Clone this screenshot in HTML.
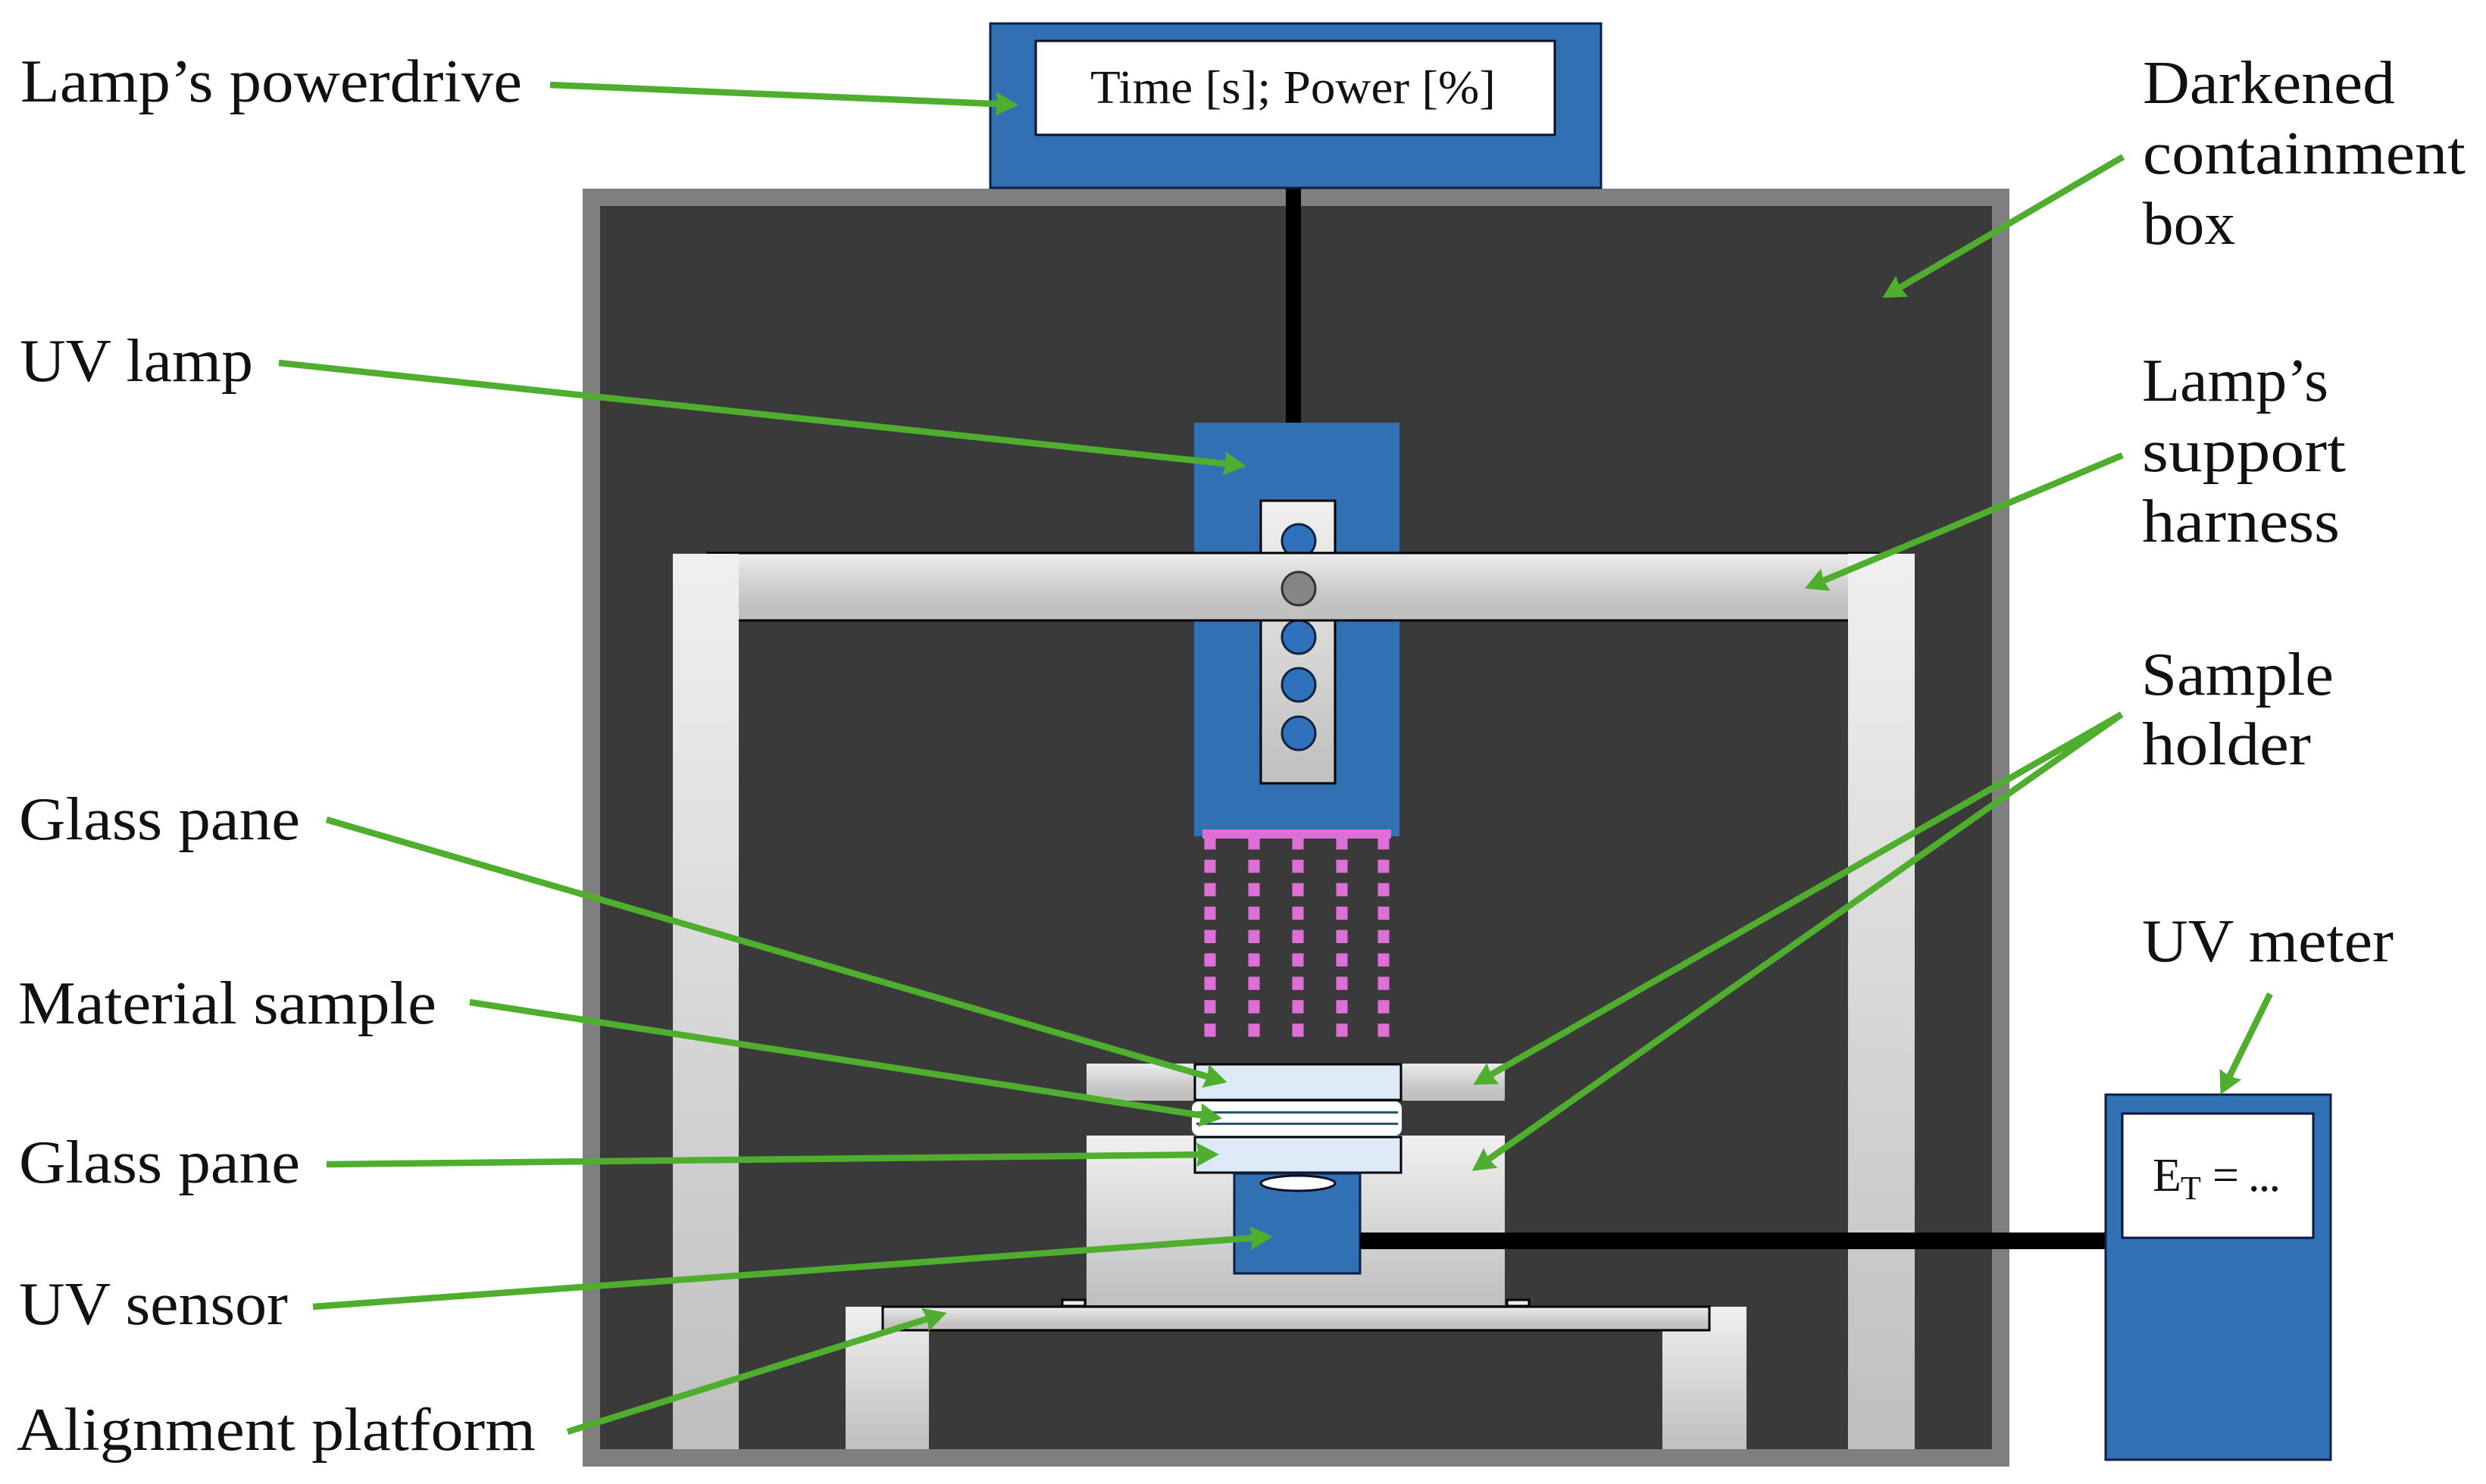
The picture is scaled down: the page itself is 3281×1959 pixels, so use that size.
<!DOCTYPE html>
<html lang="en">
<head>
<meta charset="utf-8">
<title>UV exposure setup</title>
<style>
html,body{margin:0;padding:0;background:#fff}
svg{display:block}
text{font-family:"Liberation Serif",serif;fill:#111}
.l{font-size:81px}
</style>
</head>
<body>
<svg xmlns="http://www.w3.org/2000/svg" width="3281" height="1959" viewBox="0 0 3281 1959">
<defs>
<linearGradient id="g" x1="0" y1="0" x2="0" y2="1"><stop offset="0" stop-color="#f0f0f0"/><stop offset="1" stop-color="#bfbfbf"/></linearGradient>
<linearGradient id="h" x1="0" y1="0" x2="0" y2="1"><stop offset="0" stop-color="#ececec"/><stop offset=".7" stop-color="#c4c4c4"/><stop offset="1" stop-color="#c0c0c0"/></linearGradient>
<marker id="a" markerUnits="userSpaceOnUse" markerWidth="34" markerHeight="34" refX="20" refY="17" orient="auto" viewBox="0 0 34 34">
<path d="M0 1 L30 17 L0 33 L3 17 Z" fill="#4fae2e"/>
</marker>
</defs>
<rect width="3281" height="1959" fill="#fff"/>

<rect x="769" y="249" width="1883" height="1687" fill="#7f7f7f"/>
<rect x="792" y="272" width="1837" height="1641" fill="#3a3a3a"/>

<rect x="1697" y="248" width="20" height="312" fill="#000"/>
<rect x="1307" y="31" width="806" height="217" fill="#3070b3" stroke="#0e1f45" stroke-width="3"/>
<rect x="1367" y="54" width="685" height="124" fill="#fff" stroke="#0b1020" stroke-width="3"/>
<text x="1439" y="136" font-size="62" textLength="535" lengthAdjust="spacingAndGlyphs">Time [s]; Power [%]</text>

<rect x="1576" y="558" width="271" height="546" fill="#3070b3"/>
<rect x="1664" y="661" width="98" height="373" fill="url(#g)" stroke="#000" stroke-width="3"/>
<g fill="#2f72bb" stroke="#12233f" stroke-width="3">
<ellipse cx="1714" cy="714" rx="22" ry="22"/>
<ellipse cx="1714" cy="841" rx="22" ry="22"/>
<ellipse cx="1714" cy="904" rx="22" ry="22"/>
<ellipse cx="1714" cy="968" rx="22" ry="22"/>
</g>
<rect x="975" y="731" width="1464" height="87" fill="url(#h)"/>
<path d="M932 730 H2480" stroke="#000" stroke-width="3"/>
<path d="M975 819 H2439" stroke="#000" stroke-width="3"/>
<rect x="888" y="731" width="87" height="1182" fill="url(#g)"/>
<rect x="2439" y="731" width="88" height="1182" fill="url(#g)"/>
<ellipse cx="1714" cy="777" rx="22" ry="22" fill="#858585" stroke="#333" stroke-width="3"/>

<rect x="1587" y="1095" width="249" height="12" fill="#de6fd6"/>
<g stroke="#de6fd6" stroke-width="15" stroke-dasharray="17.4 13.5">
<line x1="1597" y1="1104" x2="1597" y2="1369"/>
<line x1="1655" y1="1104" x2="1655" y2="1369"/>
<line x1="1713" y1="1104" x2="1713" y2="1369"/>
<line x1="1771" y1="1104" x2="1771" y2="1369"/>
<line x1="1826" y1="1104" x2="1826" y2="1369"/>
</g>

<rect x="1434" y="1404" width="552" height="49" fill="url(#h)"/>
<rect x="1434" y="1499" width="552" height="224" fill="url(#g)"/>
<rect x="1577" y="1405" width="272" height="47" fill="#dce9f6" stroke="#000" stroke-width="3"/>
<rect x="1573" y="1454" width="277" height="45" rx="9" fill="#fff"/>
<rect x="1579" y="1467" width="266" height="3" fill="#2a5575"/>
<rect x="1579" y="1482" width="266" height="3" fill="#2a5575"/>
<rect x="1577" y="1501" width="272" height="47" fill="#dce9f6" stroke="#000" stroke-width="3"/>
<rect x="1629" y="1549" width="166" height="132" fill="#3070b3" stroke="#0e1f45" stroke-width="3"/>
<ellipse cx="1713" cy="1562" rx="49" ry="10" fill="#fff" stroke="#0a1020" stroke-width="3"/>
<rect x="1795" y="1627" width="986" height="22" fill="#000"/>

<rect x="1402" y="1716" width="30" height="8" fill="#eee" stroke="#000" stroke-width="3"/>
<rect x="1989" y="1716" width="29" height="8" fill="#eee" stroke="#000" stroke-width="3"/>
<rect x="1116" y="1725" width="110" height="188" fill="url(#g)"/>
<rect x="2194" y="1725" width="111" height="188" fill="url(#g)"/>
<rect x="1165" y="1725" width="1091" height="31" fill="url(#h)" stroke="#000" stroke-width="3"/>

<rect x="2779" y="1445" width="297" height="482" fill="#3070b3" stroke="#0e1f45" stroke-width="3"/>
<rect x="2801" y="1470" width="252" height="164" fill="#fff" stroke="#0b1540" stroke-width="3"/>
<text x="2841" y="1572" font-size="62">E</text>
<text x="2878" y="1583" font-size="44">T</text>
<text x="2920" y="1572" font-size="62" textLength="90" lengthAdjust="spacing">= ...</text>

<g stroke="#4fae2e" stroke-width="8.5" fill="none">
<line x1="726" y1="112" x2="1334" y2="138" marker-end="url(#a)"/>
<line x1="368" y1="479" x2="1635" y2="614" marker-end="url(#a)"/>
<line x1="2802" y1="207" x2="2493" y2="388" marker-end="url(#a)"/>
<line x1="2801" y1="601" x2="2391" y2="773" marker-end="url(#a)"/>
<line x1="2800" y1="943" x2="1953" y2="1427" marker-end="url(#a)"/>
<line x1="2800" y1="943" x2="1951" y2="1540" marker-end="url(#a)"/>
<line x1="431" y1="1082" x2="1610" y2="1426" marker-end="url(#a)"/>
<line x1="620" y1="1323" x2="1603" y2="1475" marker-end="url(#a)"/>
<line x1="431" y1="1537" x2="1599" y2="1524" marker-end="url(#a)"/>
<line x1="413" y1="1725" x2="1670" y2="1633" marker-end="url(#a)"/>
<line x1="749" y1="1890" x2="1240" y2="1736" marker-end="url(#a)"/>
<line x1="2996" y1="1312" x2="2935" y2="1436" marker-end="url(#a)"/>
</g>

<g>
<text class="l" x="27" y="134" textLength="662" lengthAdjust="spacingAndGlyphs">Lamp’s powerdrive</text>
<text class="l" x="26" y="503" textLength="308" lengthAdjust="spacingAndGlyphs">UV lamp</text>
<text class="l" x="25" y="1108" textLength="371" lengthAdjust="spacingAndGlyphs">Glass pane</text>
<text class="l" x="24" y="1351" textLength="552" lengthAdjust="spacingAndGlyphs">Material sample</text>
<text class="l" x="25" y="1561" textLength="371" lengthAdjust="spacingAndGlyphs">Glass pane</text>
<text class="l" x="25" y="1748" textLength="355" lengthAdjust="spacingAndGlyphs">UV sensor</text>
<text class="l" x="22" y="1914" textLength="685" lengthAdjust="spacingAndGlyphs">Alignment platform</text>
<text class="l" x="2828" y="136" textLength="333" lengthAdjust="spacingAndGlyphs">Darkened</text>
<text class="l" x="2828" y="229" textLength="426" lengthAdjust="spacingAndGlyphs">containment</text>
<text class="l" x="2828" y="322" textLength="122" lengthAdjust="spacingAndGlyphs">box</text>
<text class="l" x="2827" y="529" textLength="246" lengthAdjust="spacingAndGlyphs">Lamp’s</text>
<text class="l" x="2827" y="622" textLength="269" lengthAdjust="spacingAndGlyphs">support</text>
<text class="l" x="2827" y="715" textLength="261" lengthAdjust="spacingAndGlyphs">harness</text>
<text class="l" x="2826" y="917" textLength="254" lengthAdjust="spacingAndGlyphs">Sample</text>
<text class="l" x="2827" y="1009" textLength="223" lengthAdjust="spacingAndGlyphs">holder</text>
<text class="l" x="2827" y="1269" textLength="332" lengthAdjust="spacingAndGlyphs">UV meter</text>
</g>
</svg>
</body>
</html>
